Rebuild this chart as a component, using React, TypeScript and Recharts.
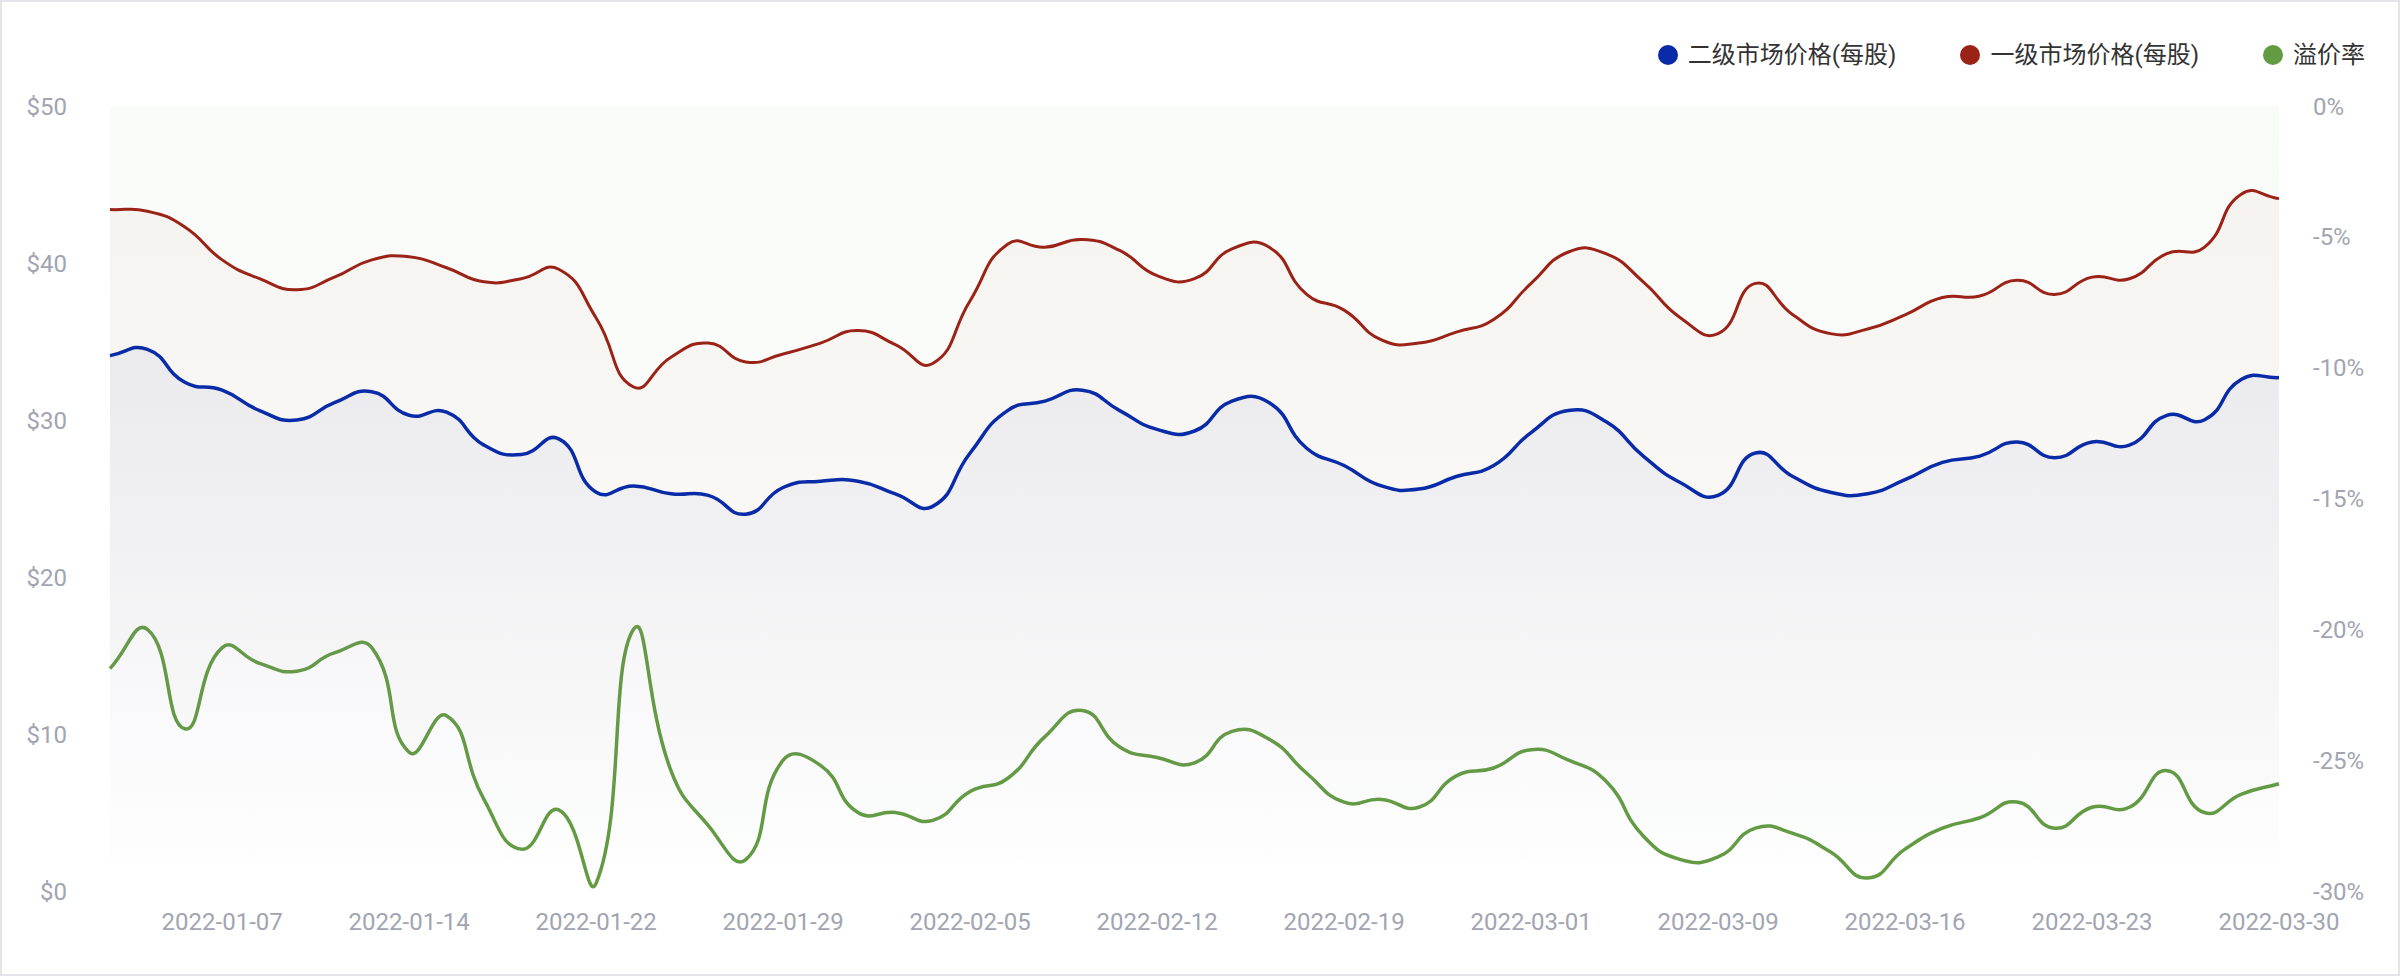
import { ComposedChart, Area, XAxis, YAxis, Legend } from "recharts";

const dates = [
  "2022-01-04", "2022-01-05", "2022-01-06", "2022-01-07", "2022-01-08",
  "2022-01-11", "2022-01-12", "2022-01-13", "2022-01-14", "2022-01-15",
  "2022-01-19", "2022-01-20", "2022-01-21", "2022-01-22", "2022-01-25",
  "2022-01-26", "2022-01-27", "2022-01-28", "2022-01-29", "2022-02-01",
  "2022-02-02", "2022-02-03", "2022-02-04", "2022-02-05", "2022-02-08",
  "2022-02-09", "2022-02-10", "2022-02-11", "2022-02-12", "2022-02-15",
  "2022-02-16", "2022-02-17", "2022-02-18", "2022-02-19", "2022-02-23",
  "2022-02-24", "2022-02-25", "2022-02-26", "2022-03-01", "2022-03-03",
  "2022-03-04", "2022-03-05", "2022-03-08", "2022-03-09", "2022-03-10",
  "2022-03-11", "2022-03-12", "2022-03-15", "2022-03-16", "2022-03-17",
  "2022-03-18", "2022-03-19", "2022-03-22", "2022-03-23", "2022-03-24",
  "2022-03-25", "2022-03-26", "2022-03-29", "2022-03-30",
];

const tickDates = [
  "2022-01-07", "2022-01-14", "2022-01-22", "2022-01-29", "2022-02-05", "2022-02-12",
  "2022-02-19", "2022-03-01", "2022-03-09", "2022-03-16", "2022-03-23", "2022-03-30",
];

// 二级市场价格(每股)
const secondaryPrice = [
  34.1, 34.5, 32.4, 31.9, 30.6, 30.0, 31.1, 31.8, 30.3, 30.5,
  28.4, 27.8, 28.8, 25.4, 25.8, 25.3, 25.2, 24.0, 25.7, 26.1,
  26.1, 25.3, 24.5, 27.9, 30.6, 31.2, 31.9, 30.6, 29.4, 29.3,
  31.2, 31.1, 28.2, 27.1, 25.8, 25.6, 26.4, 27.1, 29.2, 30.6,
  29.9, 27.7, 26.0, 25.2, 27.9, 26.4, 25.4, 25.3, 26.2, 27.3,
  27.7, 28.6, 27.6, 28.6, 28.4, 30.3, 30.0, 32.6, 32.7,
];

// 一级市场价格(每股)
const primaryPrice = [
  43.4, 43.3, 42.3, 40.2, 39.0, 38.3, 39.1, 40.2, 40.4, 39.7,
  38.8, 39.0, 39.6, 36.5, 32.1, 34.0, 34.9, 33.7, 34.2, 34.9,
  35.7, 34.8, 33.6, 37.6, 41.2, 41.0, 41.5, 40.8, 39.2, 39.0,
  40.9, 41.0, 38.0, 37.0, 35.1, 34.9, 35.6, 36.4, 38.7, 40.7,
  40.6, 38.8, 36.5, 35.5, 38.7, 36.7, 35.5, 35.8, 36.7, 37.8,
  37.9, 38.9, 38.0, 39.1, 39.0, 40.6, 41.0, 44.4, 44.1,
];

// 溢价率 (%)
const premiumRate = [
  -21.5, -20.0, -23.8, -20.7, -21.3, -21.6, -20.9, -20.7, -24.7, -23.3,
  -26.5, -28.4, -26.9, -29.7, -20.0, -25.4, -27.5, -28.8, -25.0, -25.2,
  -27.0, -27.0, -27.3, -26.2, -25.7, -24.1, -23.1, -24.5, -24.9, -25.1,
  -23.9, -24.2, -25.5, -26.6, -26.5, -26.8, -25.6, -25.3, -24.6, -25.0,
  -25.8, -27.9, -28.8, -28.7, -27.6, -27.8, -28.5, -29.5, -28.4, -27.6,
  -27.2, -26.6, -27.6, -26.8, -26.8, -25.4, -27.0, -26.3, -25.9,
];

const priceTicks = [0, 10, 20, 30, 40, 50];
const rateTicks = [-30, -25, -20, -15, -10, -5, 0];
const legendOrder = ["二级市场价格(每股)", "一级市场价格(每股)", "溢价率"];

const data = dates.map((date, i) => ({
  date,
  secondary: secondaryPrice[i],
  primary: primaryPrice[i],
  premium: premiumRate[i],
}));

const BLUE = "#0a2ba8";
const RED = "#9b2216";
const GREEN = "#629b42";
const TICK = "#a1a5b1";
const FONT = "Roboto, 'Noto Sans CJK SC', sans-serif";

// bezier smoothing like echarts `smooth: true` (control points from neighbours, factor 0.5)
const SMOOTH = 0.5;
function drawSmooth(ctx: any, pts: number[][], first: "moveTo" | "lineTo") {
  const n = pts.length;
  if (!n) return;
  ctx[first](pts[0][0], pts[0][1]);
  if (n === 1) return;
  const cps: number[][] = [];
  for (let i = 0; i < n; i++) {
    const p = pts[i];
    const prev = pts[i - 1] || p;
    const next = pts[i + 1] || p;
    const vx = (next[0] - prev[0]) * SMOOTH;
    const vy = (next[1] - prev[1]) * SMOOTH;
    let d0 = Math.hypot(p[0] - prev[0], p[1] - prev[1]);
    let d1 = Math.hypot(p[0] - next[0], p[1] - next[1]);
    const sum = d0 + d1;
    if (sum !== 0) {
      d0 /= sum;
      d1 /= sum;
    }
    cps.push([p[0] - vx * d0, p[1] - vy * d0]);
    cps.push([p[0] + vx * d1, p[1] + vy * d1]);
  }
  for (let i = 1; i < n; i++) {
    const c0 = cps[(i - 1) * 2 + 1];
    const c1 = cps[i * 2];
    ctx.bezierCurveTo(c0[0], c0[1], c1[0], c1[1], pts[i][0], pts[i][1]);
  }
}

class SmoothCurve {
  _context: any;
  _line: number = NaN;
  _pts: number[][] = [];
  constructor(context: any) {
    this._context = context;
  }
  areaStart() {
    this._line = 0;
  }
  areaEnd() {
    this._line = NaN;
  }
  lineStart() {
    this._pts = [];
  }
  lineEnd() {
    drawSmooth(this._context, this._pts, this._line ? "lineTo" : "moveTo");
    if (this._line || (this._line !== 0 && this._pts.length === 1)) this._context.closePath();
    this._line = 1 - this._line;
  }
  point(x: number, y: number) {
    this._pts.push([+x, +y]);
  }
}
const smoothCurve = (context: any) => new SmoothCurve(context);

const renderLegend = ({ payload }: any) => {
  const items = [...(payload || [])].sort(
    (a: any, b: any) => legendOrder.indexOf(a.value) - legendOrder.indexOf(b.value)
  );
  return (
    <div style={{ display: "flex", alignItems: "center", gap: 64, fontFamily: FONT }}>
      {items.map((p: any) => (
        <div key={p.value} style={{ display: "flex", alignItems: "center", gap: 10 }}>
          <span
            style={{ width: 20, height: 20, borderRadius: "50%", background: p.color, display: "inline-block" }}
          />
          <span style={{ fontSize: 24, color: "#333", lineHeight: "30px" }}>{p.value}</span>
        </div>
      ))}
    </div>
  );
};

const App = () => {
  return (
    <div style={{ position: "relative", width: 2400, height: 976, background: "#fff", fontFamily: FONT }}>
      <style>{"body{margin:0}"}</style>
      <ComposedChart width={2400} height={976} data={data} margin={{ top: 106, right: 0, bottom: 0, left: 0 }}>
        <defs>
          <linearGradient id="secondaryGrad" x1="0" y1="0" x2="0" y2="1">
            <stop offset="0%" stopColor="#8a8fc4" stopOpacity={0.2} />
            <stop offset="100%" stopColor="#8a8fc4" stopOpacity={0} />
          </linearGradient>
          <linearGradient id="primaryGrad" x1="0" y1="0" x2="0" y2="1">
            <stop offset="0%" stopColor="#a84a2a" stopOpacity={0.075} />
            <stop offset="100%" stopColor="#a84a2a" stopOpacity={0} />
          </linearGradient>
          <linearGradient id="premiumGrad" x1="0" y1="0" x2="0" y2="1">
            <stop offset="0%" stopColor={GREEN} stopOpacity={0.065} />
            <stop offset="100%" stopColor={GREEN} stopOpacity={0.01} />
          </linearGradient>
        </defs>
        <XAxis
          dataKey="date"
          ticks={tickDates}
          interval={0}
          height={85}
          axisLine={false}
          tickLine={false}
          tickSize={0}
          tickMargin={22}
          tick={{ fontSize: 24, fill: TICK, fontFamily: FONT }}
        />
        <YAxis
          yAxisId="price"
          orientation="left"
          width={110}
          domain={[0, 50]}
          ticks={priceTicks}
          axisLine={false}
          tickLine={false}
          tickSize={0}
          tickMargin={43}
          tickFormatter={(v: number) => `$${v}`}
          tick={{ fontSize: 24, fill: TICK, fontFamily: FONT }}
        />
        <YAxis
          yAxisId="rate"
          orientation="right"
          width={121}
          domain={[-30, 0]}
          ticks={rateTicks}
          allowDataOverflow
          axisLine={false}
          tickLine={false}
          tickSize={0}
          tickMargin={34}
          tickFormatter={(v: number) => `${v}%`}
          tick={{ fontSize: 24, fill: TICK, fontFamily: FONT, textAnchor: "start" }}
        />
        <Legend
          layout="horizontal"
          verticalAlign="middle"
          align="center"
          content={renderLegend}
          wrapperStyle={{ top: 40, right: 35, left: "auto", width: "auto" }}
        />
        <Area
          yAxisId="rate"
          type={smoothCurve as any}
          dataKey="premium"
          name="溢价率"
          stroke={GREEN}
          strokeWidth={3.5}
          fill="url(#premiumGrad)"
          dot={false}
          activeDot={false}
          isAnimationActive={false}
        />
        <Area
          yAxisId="price"
          type={smoothCurve as any}
          dataKey="primary"
          name="一级市场价格(每股)"
          stroke={RED}
          strokeWidth={3}
          fill="url(#primaryGrad)"
          dot={false}
          activeDot={false}
          isAnimationActive={false}
        />
        <Area
          yAxisId="price"
          type={smoothCurve as any}
          dataKey="secondary"
          name="二级市场价格(每股)"
          stroke={BLUE}
          strokeWidth={3.5}
          fill="url(#secondaryGrad)"
          dot={false}
          activeDot={false}
          isAnimationActive={false}
        />
      </ComposedChart>
      <div
        style={{
          position: "absolute",
          inset: 0,
          border: "2px solid #e3e5eb",
          boxSizing: "border-box",
          pointerEvents: "none",
        }}
      />
    </div>
  );
};

export default App;
